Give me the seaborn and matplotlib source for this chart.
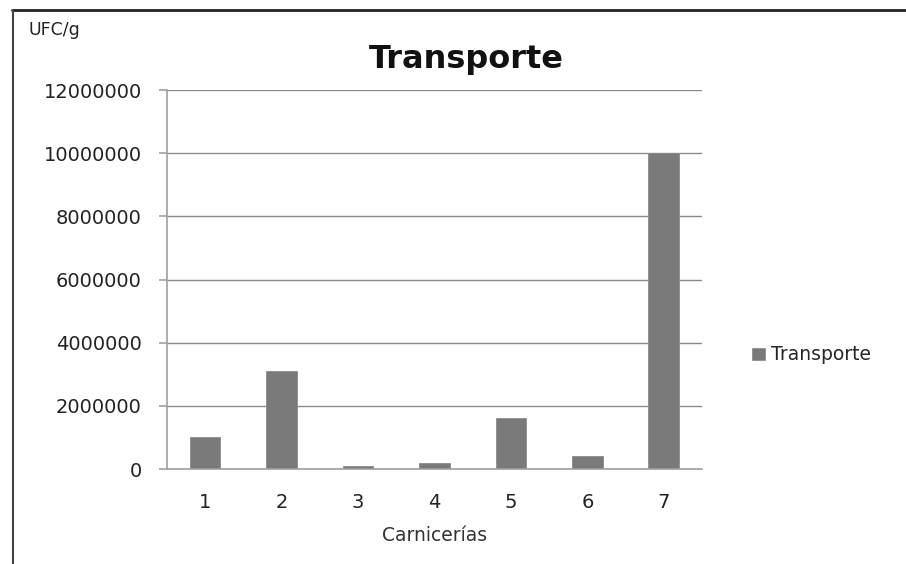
import matplotlib
matplotlib.use("Agg")
import matplotlib.pyplot as plt
import seaborn as sns
import pandas as pd
from matplotlib.lines import Line2D
from matplotlib.patches import Patch

# data
carnicerias = ["1", "2", "3", "4", "5", "6", "7"]
ufc = [1000000, 3100000, 100000, 200000, 1600000, 400000, 10000000]
y_ticks = [0, 2000000, 4000000, 6000000, 8000000, 10000000, 12000000]

df = pd.DataFrame({"Carnicerías": carnicerias, "Transporte": ufc})

sns.set_style("white")
plt.rcParams["font.family"] = ["DejaVu Sans"]

fig = plt.figure(figsize=(9.06, 5.64), dpi=100)
ax = fig.add_axes([0.1843, 0.1684, 0.5905, 0.672])

bar_col = "#7a7a7a"
sns.barplot(data=df, x="Carnicerías", y="Transporte", color=bar_col,
            width=0.4, saturation=1, ax=ax, edgecolor="#8c8c8c", linewidth=0.6)

ax.set_ylim(0, 12000000)
ax.set_xlim(-0.5, len(carnicerias) - 0.5)
ax.set_yticks(y_ticks)
ax.set_yticklabels([str(v) for v in y_ticks])
ax.yaxis.grid(True, color="#8a8a8a", linewidth=1.0)
ax.set_axisbelow(True)

for s in ["top", "right"]:
    ax.spines[s].set_visible(False)
for s in ["left", "bottom"]:
    ax.spines[s].set_color("#a0a0a0")
    ax.spines[s].set_linewidth(1.2)

# excel style ticks between categories
ax.set_xticks([i - 0.5 for i in range(len(carnicerias) + 1)], minor=True)
ax.tick_params(axis="x", which="major", length=0, pad=17, labelsize=14, labelcolor="#222222")
ax.tick_params(axis="x", which="minor", length=7, width=1.2, color="#a0a0a0", direction="out")
ax.tick_params(axis="y", which="major", length=6, width=1.2, color="#a0a0a0",
               direction="out", left=True, pad=12, labelsize=14, labelcolor="#222222")

ax.set_xlabel("Carnicerías", fontsize=13.5, color="#333333", labelpad=10)
ax.set_ylabel("")

fig.text(0.515, 0.894, "Transporte", ha="center", va="center",
         fontsize=23, fontweight="bold", color="#111111")
fig.text(0.032, 0.947, "UFC/g", ha="left", va="center", fontsize=12.5, color="#222222")

fig.legend(handles=[Patch(facecolor=bar_col, label="Transporte")],
           loc="center left", bbox_to_anchor=(0.81, 0.371),
           frameon=False, fontsize=13.5, handlelength=0.8, handleheight=0.8,
           handletextpad=0.3)

# outer frame
fig.add_artist(Line2D([12 / 906, 1], [1 - 9.5 / 564] * 2, color="#222222", linewidth=2))
fig.add_artist(Line2D([13 / 906] * 2, [0, 1 - 9.5 / 564], color="#444444", linewidth=1.5))

fig.savefig("out.png", dpi=100)
